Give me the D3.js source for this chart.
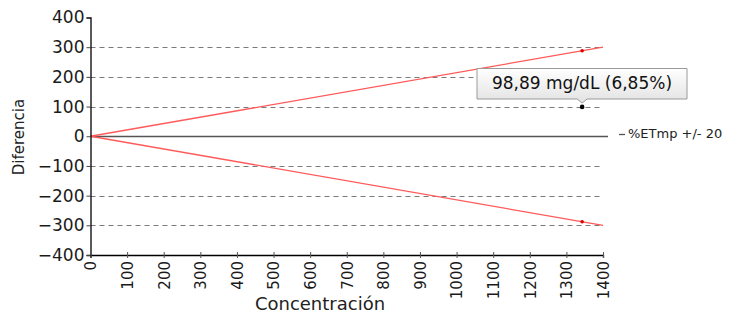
<!DOCTYPE html>
<html>
<head>
<meta charset="utf-8">
<script src="https://cdn.jsdelivr.net/npm/d3@7"></script>
<style>
  body { margin: 0; background: #fff; }
  svg { display: block; font-family: "DejaVu Sans", sans-serif; }
</style>
</head>
<body>
<svg width="736" height="314"></svg>
<script>
// data
var xTicks = [0, 100, 200, 300, 400, 500, 600, 700, 800, 900, 1000, 1100, 1200, 1300, 1400];
var yTicks = [400, 300, 200, 100, 0, -100, -200, -300, -400];
var gridValues = [300, 200, 100, -100, -200, -300];
var upperLimit = [[0, 0], [1400, 300]];
var lowerLimit = [[0, 0], [1400, -300]];
var limitMarks = [[1343, 288], [1343, -288]];
var pointData = [[1343, 98.89]];
var pointLabel = "98,89 mg/dL (6,85%)";
var legendLabel = "%ETmp +/- 20";

var svg = d3.select("svg");

var x = d3.scaleLinear().domain([0, 1400]).range([90.5, 603]);
var y = d3.scaleLinear().domain([-400, 400]).range([255, 17.5]);

// dashed grid
svg.append("g")
    .selectAll("line")
    .data(gridValues)
    .enter().append("line")
    .attr("x1", x(0))
    .attr("x2", x(1400))
    .attr("y1", d => Math.round(y(d)) + 0.5)
    .attr("y2", d => Math.round(y(d)) + 0.5)
    .attr("stroke", "#7a7a7a")
    .attr("stroke-width", 1)
    .attr("stroke-dasharray", "5,4");

// zero line (legend series)
svg.append("line")
    .attr("x1", x(0))
    .attr("x2", 608)
    .attr("y1", Math.round(y(0)) + 0.5)
    .attr("y2", Math.round(y(0)) + 0.5)
    .attr("stroke", "#555")
    .attr("stroke-width", 1.3);

// limit lines
var line = d3.line().x(d => x(d[0])).y(d => y(d[1]));
[upperLimit, lowerLimit].forEach(function (pts) {
    svg.append("path")
        .attr("d", line(pts))
        .attr("fill", "none")
        .attr("stroke", "#ff5a5a")
        .attr("stroke-width", 1.3);
});

svg.append("g")
    .selectAll("circle")
    .data(limitMarks)
    .enter().append("circle")
    .attr("cx", d => x(d[0]))
    .attr("cy", d => y(d[1]))
    .attr("r", 1.8)
    .attr("fill", "#e00000");

// axes
var yAxis = svg.append("g")
    .attr("transform", "translate(" + x(0) + ",0)")
    .call(d3.axisLeft(y).tickValues(yTicks).tickSize(4).tickPadding(2));
yAxis.select(".domain").attr("stroke", "#000").attr("stroke-width", 1.3);
yAxis.selectAll(".tick line").attr("stroke", "#444");
yAxis.selectAll("text")
    .attr("font-family", "DejaVu Sans")
    .attr("font-size", 17)
    .attr("fill", "#1a1a1a");

var xAxis = svg.append("g")
    .attr("transform", "translate(0," + y(-400) + ")")
    .call(d3.axisBottom(x).tickValues(xTicks).tickSize(3).tickFormat(d3.format("d")));
xAxis.select(".domain").attr("stroke", "#000").attr("stroke-width", 1.3);
xAxis.selectAll(".tick line").attr("y1", -3).attr("stroke", "#555");
xAxis.selectAll("text")
    .attr("font-family", "DejaVu Sans")
    .attr("font-size", 15)
    .attr("fill", "#1a1a1a")
    .attr("text-anchor", "end")
    .attr("transform", "rotate(-90)")
    .attr("x", -6)
    .attr("y", 0)
    .attr("dy", "0.36em");

// axis titles
svg.append("text")
    .attr("x", 320)
    .attr("y", 310)
    .attr("text-anchor", "middle")
    .attr("font-size", 18)
    .attr("fill", "#222")
    .text("Concentración");

svg.append("text")
    .attr("transform", "translate(24,137)rotate(-90)")
    .attr("text-anchor", "middle")
    .attr("font-size", 15)
    .attr("fill", "#222")
    .text("Diferencia");

// legend
svg.append("line")
    .attr("x1", 619).attr("x2", 625)
    .attr("y1", 134.5).attr("y2", 134.5)
    .attr("stroke", "#555").attr("stroke-width", 1.3);
svg.append("text")
    .attr("x", 628)
    .attr("y", 138)
    .attr("font-size", 13)
    .attr("fill", "#222")
    .text(legendLabel);

// highlighted point with tooltip
var px = x(pointData[0][0]), py = y(pointData[0][1]);

var defs = svg.append("defs");
var grad = defs.append("linearGradient")
    .attr("id", "tipGrad")
    .attr("x1", 0).attr("y1", 0).attr("x2", 0).attr("y2", 1);
grad.append("stop").attr("offset", "0%").attr("stop-color", "#ffffff");
grad.append("stop").attr("offset", "100%").attr("stop-color", "#e2e2e2");

var bx0 = 477, bx1 = 687, by0 = 68.5, by1 = 99;
svg.append("path")
    .attr("d", "M" + bx0 + "," + by0 + "H" + bx1 + "V" + by1 +
        "H" + (px + 5) + "L" + px + "," + (by1 + 4) + "L" + (px - 5) + "," + by1 +
        "H" + bx0 + "Z")
    .attr("fill", "url(#tipGrad)")
    .attr("stroke", "#9a9a9a")
    .attr("stroke-width", 1);

svg.append("text")
    .attr("x", (bx0 + bx1) / 2)
    .attr("y", 89)
    .attr("text-anchor", "middle")
    .attr("font-size", 17)
    .attr("fill", "#111")
    .text(pointLabel);

svg.append("g")
    .selectAll("circle")
    .data(pointData)
    .enter().append("circle")
    .attr("cx", d => x(d[0]))
    .attr("cy", d => y(d[1]))
    .attr("r", 2.3)
    .attr("fill", "#000");
</script>
</body>
</html>
